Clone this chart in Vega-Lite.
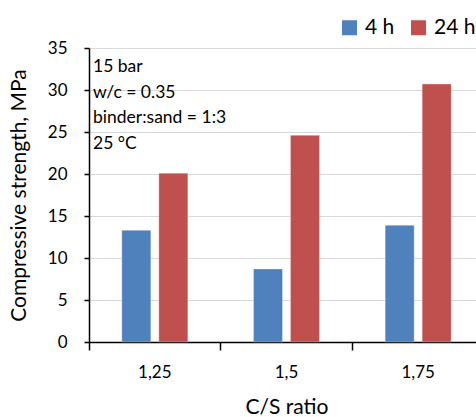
{
  "$schema": "https://vega.github.io/schema/vega-lite/v6.json",
  "width": 387,
  "height": 294,
  "autosize": {"type": "none"},
  "padding": {"left": 89, "top": 48, "right": 0, "bottom": 75},
  "background": "white",
  "config": {
    "font": "Lato",
    "view": {"stroke": null},
    "axis": {"labelFont": "Lato", "titleFont": "Lato", "labelColor": "#000", "titleColor": "#000", "titleFontWeight": "normal"}
  },
  "layer": [
    {
      "data": {
        "values": [
          {"ratio": "1,25", "time": "4 h", "strength": 13.3},
          {"ratio": "1,25", "time": "24 h", "strength": 20.1},
          {"ratio": "1,5", "time": "4 h", "strength": 8.7},
          {"ratio": "1,5", "time": "24 h", "strength": 24.6},
          {"ratio": "1,75", "time": "4 h", "strength": 13.9},
          {"ratio": "1,75", "time": "24 h", "strength": 30.7}
        ]
      },
      "mark": {"type": "bar", "stroke": "white", "strokeWidth": 0.6, "strokeOpacity": 0.5},
      "encoding": {
        "x": {
          "field": "ratio", "type": "nominal", "sort": ["1,25", "1,5", "1,75"],
          "scale": {"range": [0, 395], "paddingInner": 0, "paddingOuter": 0},
          "title": "C/S ratio",
          "axis": {
            "bandPosition": 0, "labelAngle": 0,
            "domainColor": "#000", "domainWidth": 1.5, "tickColor": "#000", "tickWidth": 1.5, "tickSize": 8,
            "labelFontSize": 17, "labelPadding": 14, "titleFontSize": 21, "titlePadding": 16, "grid": false
          }
        },
        "xOffset": {
          "field": "time", "type": "nominal",
          "scale": {"domain": ["4 h", "24 h"], "paddingInner": 0.216, "paddingOuter": 0.887}
        },
        "y": {
          "field": "strength", "type": "quantitative",
          "scale": {"domain": [0, 35], "nice": false},
          "title": "Compressive strength, MPa",
          "axis": {
            "values": [0, 5, 10, 15, 20, 25, 30, 35],
            "domainColor": "#000", "domainWidth": 1.5, "tickColor": "#000", "tickWidth": 1.5, "tickSize": 5,
            "gridColor": "#D9D9D9", "gridWidth": 1.2,
            "labelFontSize": 17, "labelPadding": 17, "titleFontSize": 21, "titlePadding": 18
          }
        },
        "color": {
          "field": "time", "type": "nominal",
          "scale": {"domain": ["4 h", "24 h"], "range": ["#4F81BD", "#C0504D"]},
          "legend": {
            "title": null, "orient": "none", "direction": "horizontal", "legendX": 250, "legendY": -31,
            "symbolType": "square", "symbolSize": 225, "symbolStrokeWidth": 0, "symbolOpacity": 1,
            "labelFontSize": 21, "labelOffset": 5, "columnPadding": 13, "labelColor": "#000"
          }
        }
      }
    },
    {
      "data": {"values": [{"note": "15 bar\nw/c = 0.35\nbinder:sand = 1:3\n25 °C", "ratio": "1,25", "top": 35}]},
      "mark": {"type": "text", "lineBreak": "\n", "align": "left", "baseline": "top", "dx": 4, "dy": 10, "fontSize": 17.5, "lineHeight": 25.5, "color": "#000", "font": "Lato"},
      "encoding": {
        "x": {"field": "ratio", "type": "nominal", "bandPosition": 0},
        "y": {"field": "top", "type": "quantitative"},
        "text": {"field": "note"}
      }
    }
  ]
}
